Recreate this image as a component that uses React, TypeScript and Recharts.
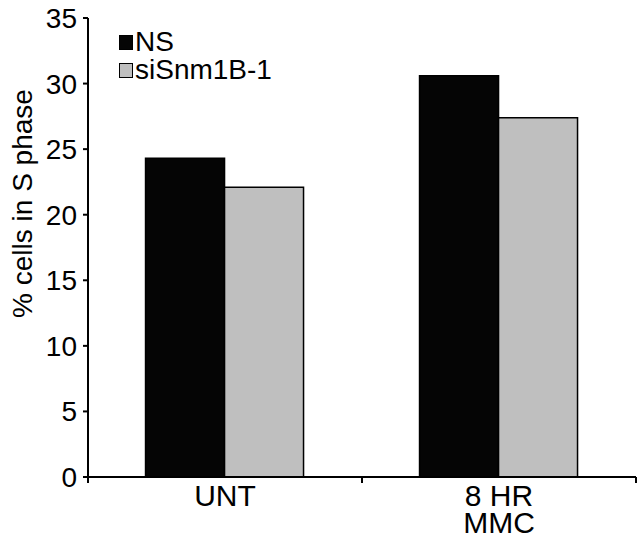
import { BarChart, Bar, XAxis, YAxis, Label } from 'recharts'

const categories = ['UNT', '8 HR\nMMC']
const nsValues = [24.3, 30.6]
const siValues = [22.1, 27.4]
const yTicks = [0, 5, 10, 15, 20, 25, 30, 35]
const seriesNames = ['NS', 'siSnm1B-1']

const W = 639
const H = 539
const MARGIN = { top: 18, right: 3, bottom: 0, left: 0 }
const Y_W = 88
const X_H = 62
const FONT = '"Liberation Sans", Arial, Helvetica, sans-serif'
const BLACK = '#050505'
const GREY = '#bfbfbf'

const data = categories.map((c, i) => ({ cat: c, ns: nsValues[i], si: siValues[i] }))
const halfBand = (W - MARGIN.left - MARGIN.right - Y_W) / categories.length / 2

function XTick(props: any) {
  const { x, y, payload, index } = props
  const lines = String(payload.value).split('\n')
  return (
    <g>
      {index === 0 && <line x1={x - halfBand} x2={x - halfBand} y1={y} y2={y + 6} stroke="#000" strokeWidth={2} />}
      <line x1={x + halfBand} x2={x + halfBand} y1={y} y2={y + 6} stroke="#000" strokeWidth={2} />
      <text x={x} y={y} textAnchor="middle" fontSize={30} fill="#000" fontFamily={FONT}>
        {lines.map((l, i) => (
          <tspan key={i} x={x} dy={i === 0 ? 29 : 27}>{l}</tspan>
        ))}
      </text>
    </g>
  )
}

// y title sits left of the tick labels, a bit above the plot's middle
function YLabel() {
  const cx = MARGIN.left + 22
  const plotH = H - MARGIN.top - MARGIN.bottom - X_H
  const cy = MARGIN.top + plotH / 2 - 44
  return (
    <text x={cx} y={cy} transform={`rotate(-90 ${cx} ${cy})`} textAnchor="middle" dominantBaseline="central"
      fontSize={28} fill="#000" fontFamily={FONT}>% cells in S phase</text>
  )
}

export default function App() {
  return (
    <div style={{ position: 'absolute', left: 0, top: 0, width: W, height: H, background: '#fff' }}>
      <BarChart width={W} height={H} data={data} margin={MARGIN} barCategoryGap="21%" barGap={0}>
        <XAxis dataKey="cat" height={X_H} axisLine={{ stroke: '#000', strokeWidth: 2 }} tickLine={false}
          tickSize={0} tickMargin={0} interval={0} tick={<XTick />} />
        <YAxis width={Y_W} domain={[0, 35]} ticks={yTicks} interval={0} axisLine={{ stroke: '#000', strokeWidth: 2 }}
          tickLine={{ stroke: '#000', strokeWidth: 2 }} tickSize={5} tickMargin={6}
          tick={{ fontSize: 28, fill: '#000', fontFamily: FONT }}>
          <Label content={<YLabel />} />
        </YAxis>
        <Bar dataKey="ns" name={seriesNames[0]} fill={BLACK} stroke="#000" strokeWidth={1.5} isAnimationActive={false} />
        <Bar dataKey="si" name={seriesNames[1]} fill={GREY} stroke="#000" strokeWidth={1.5} isAnimationActive={false} />
      </BarChart>
      <div style={{ position: 'absolute', left: 119, top: 28, fontFamily: FONT, fontSize: 28, lineHeight: '28px', color: '#000' }}>
        {seriesNames.map((n, i) => (
          <div key={n} style={{ display: 'flex', alignItems: 'center' }}>
            <span style={{ display: 'inline-block', width: 12, height: 13, background: i === 0 ? BLACK : GREY,
              border: '1px solid #000', marginRight: 2 }} />
            <span>{n}</span>
          </div>
        ))}
      </div>
    </div>
  )
}
